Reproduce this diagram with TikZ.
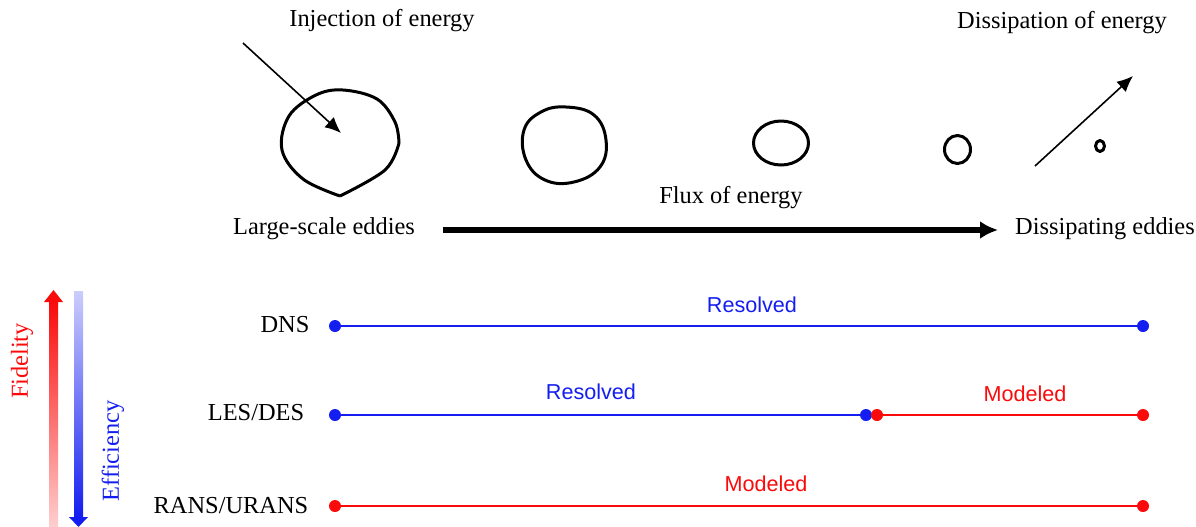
\documentclass[tikz,border=0pt]{standalone}
\usepackage{fontspec}
\setmainfont{Liberation Serif}
\newfontfamily\labelsans{Liberation Sans}
\usetikzlibrary{arrows.meta}
\definecolor{rblue}{RGB}{20,30,240}
\definecolor{rred}{RGB}{250,10,10}
\tikzset{
  txt/.style={font=\fontsize{12.2pt}{14pt}\selectfont, inner sep=0pt},
  lab/.style={font=\labelsans\fontsize{10.8pt}{13pt}\selectfont, inner sep=0pt},
  eddy/.style={line width=1.5pt, line join=round},
  thinarrow/.style={line width=0.8pt, -{Latex[length=8pt,width=7pt]}},
  bluebar/.style={rblue, line width=1pt},
  redbar/.style={rred, line width=1pt},
  bdot/.style={circle, fill=rblue, inner sep=0pt, minimum size=6pt},
  rdot/.style={circle, fill=rred, inner sep=0pt, minimum size=6pt},
}
\begin{document}
\begin{tikzpicture}[x=0.5pt,y=-0.5pt]
\useasboundingbox (0,0) rectangle (1196,526);
% top texts
\node[txt] (inj) at (382,21) {Injection of energy};
\node[txt] (dis) at (1062,23) {Dissipation of energy};
\node[txt] (large) at (324,229) {Large-scale eddies};
\node[txt] (dissed) at (1105,229) {Dissipating eddies};
\node[txt] (flux) at (731,198) {Flux of energy};
% eddies
\draw[eddy] plot[smooth, tension=0.6] coordinates {(340,196) (303,179) (282,150) (289,116) (316,95) (343,90) (377,99) (395,122) (399,143)}
  -- plot[smooth, tension=0.6] coordinates {(399,143) (385,170) (340,196)};
\draw[eddy] plot[smooth cycle, tension=0.7] coordinates {(524,130) (541,112) (566,107) (594,115) (606,140) (600,167) (574,182) (545,180) (526,160)};
\draw[eddy] (781,143) ellipse [x radius=27.5, y radius=22];
\draw[eddy] (957.5,149.5) ellipse [x radius=13, y radius=14];
\draw[eddy] (1100,146) ellipse [x radius=4.5, y radius=5.5];
% arrows
\coordinate (injs) at (243,43);
\coordinate (injc) at (341,133);
\draw[thinarrow] (injs) -- (injc);
\coordinate (diss) at (1035,166);
\coordinate (dise) at (1133,76);
\draw[thinarrow] (diss) -- (dise);
\coordinate (fs) at (443,230);
\coordinate (fe) at (998,230);
\draw[line width=2.6pt, -{Latex[length=9pt,width=9pt]}] (fs) -- (fe);
% fidelity / efficiency bars
\shade[bottom color=rred!20, top color=rred] (49,302) rectangle (58,526);
\fill[rred] (44,302) -- (53.5,290) -- (63,302) -- cycle;
\shade[top color=rblue!22, bottom color=rblue] (74,291) rectangle (83,517);
\fill[rblue] (69,517) -- (78.5,527) -- (88,517) -- cycle;
\node[txt, rred, rotate=90] (fid) at (22,361) {Fidelity};
\node[txt, rblue, rotate=90] (eff) at (113,451) {Efficiency};
% method rows
\node[txt] (dns) at (285,325) {DNS};
\node[txt] (les) at (256,413) {LES/DES};
\node[txt] (rans) at (231,506) {RANS/URANS};
\node[bdot] (d1) at (335,326) {};
\node[bdot] (d2) at (1143,326) {};
\draw[bluebar] (d1) -- (d2);
\node[lab, rblue] (r1) at (752,305) {Resolved};
\node[bdot] (l1) at (335,415) {};
\node[bdot] (l2) at (866,415) {};
\node[rdot] (l3) at (877,415) {};
\node[rdot] (l4) at (1143,415) {};
\draw[bluebar] (l1) -- (l2);
\draw[redbar] (l3) -- (l4);
\node[lab, rblue] (r2) at (591,392) {Resolved};
\node[lab, rred] (m1) at (1025,394) {Modeled};
\node[rdot] (a1) at (335,506) {};
\node[rdot] (a2) at (1143,506) {};
\draw[redbar] (a1) -- (a2);
\node[lab, rred] (m2) at (766,484) {Modeled};
\end{tikzpicture}
\end{document}
